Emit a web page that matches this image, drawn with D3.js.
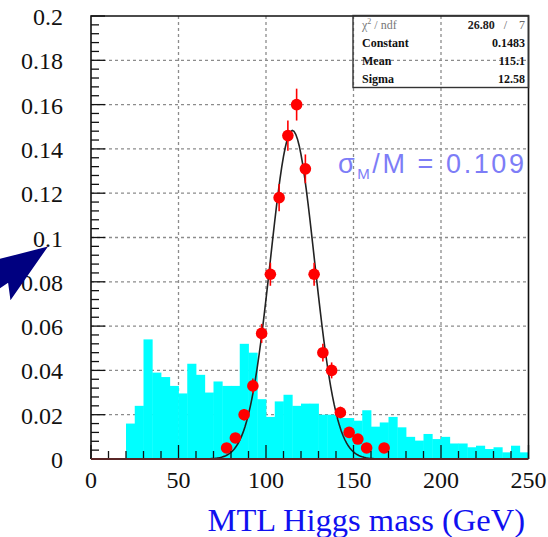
<!DOCTYPE html>
<html><head><meta charset="utf-8">
<script src="https://cdn.jsdelivr.net/npm/d3@7"></script>
<style>html,body{margin:0;padding:0;background:#fff;} svg{display:block}</style>
</head><body>
<script>
// ---- data ----
const binLow = [20,25,30,35,40,45,50,55,60,65,70,75,80,85,90,95,100,105,110,115,120,125,
  130,135,140,145,150,155,160,165,170,175,180,185,190,195,200,205,210,215,220,225,230,235,240,245];
const binWidth = 5;
const binValue = [0.016,0.024,0.054,0.039,0.037,0.033,0.0296,0.043,0.038,0.030,0.035,0.033,0.033,0.052,0.048,0.027,
  0.019,0.026,0.029,0.024,0.025,0.025,0.020,0.020,0.0185,0.0185,0.0173,0.022,0.0146,0.0165,0.019,0.0143,
  0.010,0.0083,0.0113,0.009,0.010,0.007,0.007,0.0053,0.006,0.0045,0.0053,0.003,0.006,0.003];
const pointMass  = [77.5,82.5,87.5,92.5,97.5,102.5,107.5,112.5,117.5,122.5,127.5,132.5,137.5,142.5,147.5,152.5,157.5,167.5];
const pointValue = [0.005,0.0095,0.020,0.033,0.0567,0.0834,0.118,0.146,0.160,0.131,0.0834,0.048,0.040,0.021,0.012,0.009,0.005,0.005];
const pointError = [0.0013,0.0018,0.0026,0.0033,0.0043,0.0052,0.0062,0.0068,0.0072,0.0065,0.0052,0.0040,0.0036,0.0026,0.0020,0.0017,0.0013,0.0013];
const fitConstant = 0.1483, fitMean = 115.1, fitSigma = 12.58;
const fitRange = [60, 180];
const statLabels = ["Constant","Mean","Sigma"];
const statValues = ["0.1483","115.1","12.58"];
const chiValue = "26.80", ndfValue = "7";
const xTicks = [0,50,100,150,200,250];
const xTickLabels = ["0","50","100","150","200","250"];
const yTicks = [0,0.02,0.04,0.06,0.08,0.1,0.12,0.14,0.16,0.18,0.2];
const yTickLabels = ["0","0.02","0.04","0.06","0.08","0.1","0.12","0.14","0.16","0.18","0.2"];
const xTitle = "MTL Higgs mass (GeV)";

// ---- layout ----
const W = 548, H = 537;
const L = 91, R = 528.5, T = 16, B = 459;
const svg = d3.select("body").append("svg").attr("width", W).attr("height", H);
const x = d3.scaleLinear().domain([0, 250]).range([L, R]);
const y = d3.scaleLinear().domain([0, 0.2]).range([B, T]);
const serif = "'Liberation Serif','DejaVu Serif',serif";

// grid
const grid = svg.append("g").attr("stroke", "#8c8c8c").attr("stroke-width", 1.3).attr("stroke-dasharray", "3,3");
xTicks.filter(v => v > 0 && v < 250).forEach(v => grid.append("line").attr("x1", x(v)).attr("x2", x(v)).attr("y1", T).attr("y2", B));
yTicks.filter(v => v > 0 && v < 0.2).forEach(v => grid.append("line").attr("x1", L).attr("x2", R).attr("y1", y(v)).attr("y2", y(v)));

// histogram (cyan)
const histData = binLow.map((b, i) => ({x0: b, x1: b + binWidth, v: binValue[i]}));
svg.append("g").selectAll("rect").data(histData).join("rect")
  .attr("x", d => x(d.x0)).attr("width", d => x(d.x1) - x(d.x0) + 0.4)
  .attr("y", d => y(d.v)).attr("height", d => y(0) - y(d.v))
  .attr("fill", "#00ffff");

// fit curve
const fitPts = d3.range(fitRange[0], fitRange[1] + 0.01, 1).map(m => [m, fitConstant * Math.exp(-0.5 * Math.pow((m - fitMean) / fitSigma, 2))]);
svg.append("path").datum(fitPts)
  .attr("d", d3.line().x(d => x(d[0])).y(d => y(d[1])))
  .attr("fill", "none").attr("stroke", "#222").attr("stroke-width", 1.6);

// points with error bars
const pts = pointMass.map((m, i) => ({m, v: pointValue[i], e: pointError[i]}));
const pg = svg.append("g");
pg.selectAll("line").data(pts).join("line")
  .attr("x1", d => x(d.m)).attr("x2", d => x(d.m))
  .attr("y1", d => y(d.v - d.e)).attr("y2", d => y(d.v + d.e))
  .attr("stroke", "#ff0000").attr("stroke-width", 1.6);
pg.selectAll("circle").data(pts).join("circle")
  .attr("cx", d => x(d.m)).attr("cy", d => y(d.v)).attr("r", 5.8)
  .attr("fill", "#ff0000");

// axis ticks (inside)
const ax = svg.append("g").attr("stroke", "#111").attr("stroke-width", 1.3);
d3.range(0, 250.01, 10).forEach(v => {
  const major = xTicks.includes(v);
  ax.append("line").attr("x1", x(v)).attr("x2", x(v)).attr("y1", B).attr("y2", B - (major ? 14 : 8));
});
d3.range(0, 50.5, 1).forEach(k => {
  const v = k * 0.004;
  const major = k % 5 === 0;
  ax.append("line").attr("x1", L).attr("x2", L + (major ? 14 : 8)).attr("y1", y(v)).attr("y2", y(v));
});

// frame
svg.append("path").attr("d", `M${L},${B}V${T}H${R}V${B}`).attr("fill", "none").attr("stroke", "#111").attr("stroke-width", 1.6);
svg.append("line").attr("x1", L).attr("x2", R).attr("y1", B).attr("y2", B).attr("stroke", "#5a2626").attr("stroke-width", 1.8);

// tick labels
svg.append("g").selectAll("text").data(yTicks).join("text")
  .attr("x", 63).attr("y", d => y(d) + 9).attr("text-anchor", "end")
  .attr("font-family", serif).attr("font-size", 24).attr("fill", "#111")
  .text((d, i) => yTickLabels[i]);
svg.append("g").selectAll("text").data(xTicks).join("text")
  .attr("x", d => x(d)).attr("y", 488).attr("text-anchor", "middle")
  .attr("font-family", serif).attr("font-size", 24).attr("fill", "#111")
  .text((d, i) => xTickLabels[i]);

// x title
svg.append("text").attr("x", 525).attr("y", 531).attr("text-anchor", "end")
  .attr("font-family", serif).attr("font-size", 32.5).attr("fill", "#1010f0").text(xTitle);

// stats box
const bx0 = 353, bx1 = R, by0 = 15.5, by1 = 87.5;
svg.append("rect").attr("x", bx0).attr("y", by0).attr("width", bx1 - bx0).attr("height", by1 - by0)
  .attr("fill", "none").attr("stroke", "#333").attr("stroke-width", 1.4);
const rowH = (by1 - by0) / 4;
const chi = svg.append("text").attr("x", 362).attr("y", by0 + rowH * 0.5 + 4.5)
  .attr("font-family", serif).attr("font-size", 12).attr("fill", "#777");
chi.append("tspan").text("χ");
chi.append("tspan").attr("font-size", 8).attr("dy", -5).text("2");
chi.append("tspan").attr("dy", 5).text(" / ndf");
const chiV = svg.append("text").attr("x", 525).attr("y", by0 + rowH * 0.5 + 4.5).attr("text-anchor", "end")
  .attr("font-family", serif).attr("font-size", 12);
chiV.append("tspan").attr("font-weight", "bold").attr("fill", "#222").text(chiValue);
chiV.append("tspan").attr("fill", "#666").attr("xml:space", "preserve").text("   /    " + ndfValue);
statLabels.forEach((lab, i) => {
  const yy = by0 + rowH * (i + 1.5) + 4.5;
  svg.append("text").attr("x", 362).attr("y", yy).attr("font-family", serif).attr("font-size", 12)
    .attr("font-weight", "bold").attr("fill", "#111").text(lab);
  svg.append("text").attr("x", 525).attr("y", yy).attr("text-anchor", "end").attr("font-family", serif)
    .attr("font-size", 12).attr("font-weight", "bold").attr("fill", "#111").text(statValues[i]);
});

// sigma annotation
const sig = svg.append("text").attr("x", 338).attr("y", 172.5)
  .attr("font-family", "'Liberation Sans','DejaVu Sans',sans-serif").attr("font-size", 27)
  .attr("fill", "#7d7df7").attr("textLength", 186).attr("lengthAdjust", "spacing");
sig.append("tspan").text("σ");
sig.append("tspan").attr("font-size", 15).attr("dy", 6).text("M");
sig.append("tspan").attr("dy", -6).text("/M = 0.109");

// arrow pointing at 0.1 label
const tip = [48, y(0.1) + 9];
const u = [0.822, -0.570], n = [0.570, 0.822];
const mid = [tip[0] - u[0] * 61.4, tip[1] - u[1] * 61.4];
const P = (p, a, b) => [p[0] + u[0] * a + n[0] * b, p[1] + u[1] * a + n[1] * b];
const arrowPts = [tip, P(mid, 0, 22.7), P(mid, 8, 7), P(mid, -90, 7), P(mid, -90, -7), P(mid, 8, -7), P(mid, 0, -22.7)];
svg.append("path").attr("d", d3.line()(arrowPts) + "Z").attr("fill", "#000080");
</script>
</body></html>
